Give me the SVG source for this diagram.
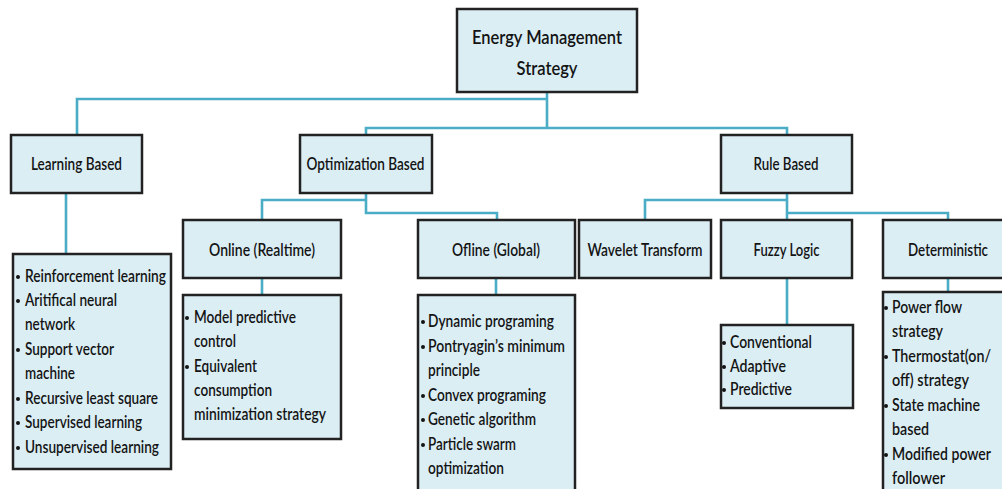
<svg xmlns="http://www.w3.org/2000/svg" width="1002" height="489" viewBox="0 0 1002 489">
<style>
.box{fill:#dbeef4;stroke:#222;stroke-width:2.5}
.conn{fill:none;stroke:#4bacc6;stroke-width:2.6}
.bul{fill:#141414}
text{font-family:Lato,"Open Sans","DejaVu Sans",sans-serif;fill:#141414;font-weight:600}
.t1{font-size:20px;text-anchor:middle}
.t2{font-size:17px;text-anchor:middle}
.li{font-size:17px}
</style>
<rect width="1002" height="489" fill="#fff"/>
<g id="connectors">
<path class="conn" d="M547 92 V128 M547 99 H77 V135 M366 135 V128 H787 V135"/>
<path class="conn" d="M366 193 V213 H497 V220 M366 200 H262 V220"/>
<path class="conn" d="M787 193 V220 M787 200 H645 V220 M787 213 H948 V220"/>
<path class="conn" d="M66 193 V254 M262 278 V295 M496 278 V295 M787 278 V325 M948 278 V292"/>
</g>
<g id="root">
<rect class="box" x="457" y="9" width="180" height="83"/>
<text class="t1" x="547" y="44" textLength="150" lengthAdjust="spacingAndGlyphs">Energy Management</text>
<text class="t1" x="547" y="75" textLength="61" lengthAdjust="spacingAndGlyphs">Strategy</text>
</g>
<g id="learning">
<rect class="box" x="11" y="135" width="131" height="58"/>
<text class="t2" x="76.5" y="170" textLength="91" lengthAdjust="spacingAndGlyphs">Learning Based</text>
</g>
<g id="optimization">
<rect class="box" x="300" y="135" width="132" height="58"/>
<text class="t2" x="365.5" y="170" textLength="118" lengthAdjust="spacingAndGlyphs">Optimization Based</text>
</g>
<g id="rule">
<rect class="box" x="721" y="135" width="131" height="58"/>
<text class="t2" x="786" y="170" textLength="65" lengthAdjust="spacingAndGlyphs">Rule Based</text>
</g>
<g id="online">
<rect class="box" x="183" y="220" width="158" height="58"/>
<text class="t2" x="262" y="256" textLength="106" lengthAdjust="spacingAndGlyphs">Online (Realtime)</text>
</g>
<g id="offline">
<rect class="box" x="418" y="220" width="157" height="58"/>
<text class="t2" x="496" y="256" textLength="88" lengthAdjust="spacingAndGlyphs">Ofline (Global)</text>
</g>
<g id="wavelet">
<rect class="box" x="579" y="220" width="132" height="58"/>
<text class="t2" x="645" y="256" textLength="115" lengthAdjust="spacingAndGlyphs">Wavelet Transform</text>
</g>
<g id="fuzzy">
<rect class="box" x="721" y="220" width="131" height="58"/>
<text class="t2" x="786.5" y="256" textLength="66" lengthAdjust="spacingAndGlyphs">Fuzzy Logic</text>
</g>
<g id="deterministic">
<rect class="box" x="883" y="220" width="130" height="58"/>
<text class="t2" x="948" y="256" textLength="80" lengthAdjust="spacingAndGlyphs">Deterministic</text>
</g>
<g id="learning-list">
<rect class="box" x="13" y="254" width="158" height="215"/>
<circle class="bul" cx="18" cy="277" r="2"/><text class="li" x="25" y="282" textLength="141" lengthAdjust="spacingAndGlyphs">Reinforcement learning</text>
<circle class="bul" cx="18" cy="301" r="2"/><text class="li" x="25" y="306" textLength="92" lengthAdjust="spacingAndGlyphs">Aritifical neural</text>
<text class="li" x="25" y="330" textLength="50" lengthAdjust="spacingAndGlyphs">network</text>
<circle class="bul" cx="18" cy="350" r="2"/><text class="li" x="25" y="355" textLength="89" lengthAdjust="spacingAndGlyphs">Support vector</text>
<text class="li" x="25" y="379" textLength="50" lengthAdjust="spacingAndGlyphs">machine</text>
<circle class="bul" cx="18" cy="399" r="2"/><text class="li" x="25" y="404" textLength="133" lengthAdjust="spacingAndGlyphs">Recursive least square</text>
<circle class="bul" cx="18" cy="423" r="2"/><text class="li" x="25" y="428" textLength="117" lengthAdjust="spacingAndGlyphs">Supervised learning</text>
<circle class="bul" cx="18" cy="448" r="2"/><text class="li" x="25" y="453" textLength="134" lengthAdjust="spacingAndGlyphs">Unsupervised learning</text>
</g>
<g id="online-list">
<rect class="box" x="183" y="295" width="158" height="144"/>
<circle class="bul" cx="187" cy="318" r="2"/><text class="li" x="194" y="323" textLength="102" lengthAdjust="spacingAndGlyphs">Model predictive</text>
<text class="li" x="194" y="347" textLength="42" lengthAdjust="spacingAndGlyphs">control</text>
<circle class="bul" cx="187" cy="367" r="2"/><text class="li" x="194" y="372" textLength="63" lengthAdjust="spacingAndGlyphs">Equivalent</text>
<text class="li" x="194" y="396" textLength="78" lengthAdjust="spacingAndGlyphs">consumption</text>
<text class="li" x="194" y="420" textLength="132" lengthAdjust="spacingAndGlyphs">minimization strategy</text>
</g>
<g id="offline-list">
<rect class="box" x="418" y="295" width="157" height="200"/>
<circle class="bul" cx="423" cy="322" r="2"/><text class="li" x="428" y="327" textLength="126" lengthAdjust="spacingAndGlyphs">Dynamic programing</text>
<circle class="bul" cx="423" cy="347" r="2"/><text class="li" x="428" y="352" textLength="137" lengthAdjust="spacingAndGlyphs">Pontryagin’s minimum</text>
<text class="li" x="428" y="376" textLength="52" lengthAdjust="spacingAndGlyphs">principle</text>
<circle class="bul" cx="423" cy="396" r="2"/><text class="li" x="428" y="401" textLength="118" lengthAdjust="spacingAndGlyphs">Convex programing</text>
<circle class="bul" cx="423" cy="420" r="2"/><text class="li" x="428" y="425" textLength="108" lengthAdjust="spacingAndGlyphs">Genetic algorithm</text>
<circle class="bul" cx="423" cy="445" r="2"/><text class="li" x="428" y="450" textLength="88" lengthAdjust="spacingAndGlyphs">Particle swarm</text>
<text class="li" x="428" y="474" textLength="76" lengthAdjust="spacingAndGlyphs">optimization</text>
</g>
<g id="fuzzy-list">
<rect class="box" x="721" y="325" width="132" height="83"/>
<circle class="bul" cx="724" cy="343" r="2"/><text class="li" x="730" y="348" textLength="82" lengthAdjust="spacingAndGlyphs">Conventional</text>
<circle class="bul" cx="724" cy="367" r="2"/><text class="li" x="730" y="372" textLength="56" lengthAdjust="spacingAndGlyphs">Adaptive</text>
<circle class="bul" cx="724" cy="390" r="2"/><text class="li" x="730" y="395" textLength="62" lengthAdjust="spacingAndGlyphs">Predictive</text>
</g>
<g id="deterministic-list">
<rect class="box" x="883" y="292" width="130" height="200"/>
<circle class="bul" cx="886" cy="308" r="2"/><text class="li" x="892" y="313" textLength="70" lengthAdjust="spacingAndGlyphs">Power flow</text>
<text class="li" x="892" y="337" textLength="51" lengthAdjust="spacingAndGlyphs">strategy</text>
<circle class="bul" cx="886" cy="357" r="2"/><text class="li" x="892" y="362" textLength="99" lengthAdjust="spacingAndGlyphs">Thermostat(on/</text>
<text class="li" x="892" y="386" textLength="77" lengthAdjust="spacingAndGlyphs">off) strategy</text>
<circle class="bul" cx="886" cy="406" r="2"/><text class="li" x="892" y="411" textLength="88" lengthAdjust="spacingAndGlyphs">State machine</text>
<text class="li" x="892" y="435" textLength="37" lengthAdjust="spacingAndGlyphs">based</text>
<circle class="bul" cx="886" cy="455" r="2"/><text class="li" x="892" y="460" textLength="99" lengthAdjust="spacingAndGlyphs">Modified power</text>
<text class="li" x="892" y="484" textLength="53" lengthAdjust="spacingAndGlyphs">follower</text>
</g>
</svg>
